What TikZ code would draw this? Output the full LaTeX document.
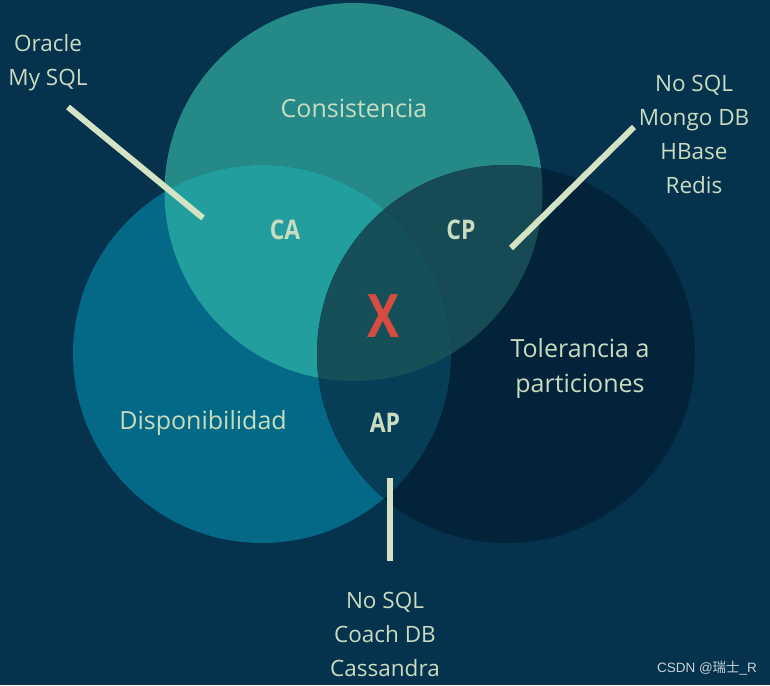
\documentclass[tikz,border=0pt]{standalone}
\usepackage{fontspec}
\setmainfont{Open Sans}
\newfontfamily\cjkfont{Noto Sans CJK SC}
\newfontfamily\wmfont{Liberation Sans}
\definecolor{bg}{HTML}{05324D}
\definecolor{ctop}{HTML}{258988}
\definecolor{cleft}{HTML}{046887}
\definecolor{cright}{HTML}{03233A}
\definecolor{regca}{HTML}{229E9F}
\definecolor{regcp}{HTML}{164A55}
\definecolor{regap}{HTML}{063E58}
\definecolor{regmid}{HTML}{155058}
\definecolor{txt}{HTML}{C9DCC0}
\definecolor{linec}{HTML}{D3E3C4}
\definecolor{xred}{HTML}{D64C40}
\tikzset{
  lbl/.style={text=txt, font=\fontsize{22.5}{34}\selectfont, align=center, inner sep=0pt},
  biglbl/.style={text=txt, font=\fontsize{25}{35}\selectfont, align=center, inner sep=0pt},
  reg/.style={text=txt, font=\bfseries\fontsize{27}{30}\selectfont, inner sep=0pt, xscale=0.85, transform shape},
  pointer/.style={draw=linec, line width=6pt},
}
\begin{document}
\begin{tikzpicture}[x=1pt,y=-1pt]
\fill[bg] (0,0) rectangle (770,685);
\useasboundingbox (0,0) rectangle (770,685);
\coordinate (ct) at (353.5,192);
\coordinate (cl) at (262,354);
\coordinate (cr) at (506,354);
\def\R{189}
\fill[ctop] (ct) circle (\R);
\fill[cleft] (cl) circle (\R);
\fill[cright] (cr) circle (\R);
\begin{scope}
  \clip (ct) circle (\R);
  \fill[regca] (cl) circle (\R);
  \fill[regcp] (cr) circle (\R);
\end{scope}
\begin{scope}
  \clip (cl) circle (\R);
  \fill[regap] (cr) circle (\R);
\end{scope}
\begin{scope}
  \clip (ct) circle (\R);
  \clip (cl) circle (\R);
  \fill[regmid] (cr) circle (\R);
\end{scope}
% labels
\node[biglbl] (cons) at (354,108) {Consistencia};
\node[biglbl] (disp) at (203,423) {Disponibilidad};
\node[biglbl] (tol) at (580,368) {Tolerancia a\\particiones};
\node[reg] (ca) at (285,230) {CA};
\node[reg] (cp) at (461,230) {CP};
\node[reg] (ap) at (385,423) {AP};
\node[text=xred, font=\bfseries\fontsize{60}{60}\selectfont, inner sep=0pt, xscale=0.8, transform shape] (x) at (384,316) {X};
\node[lbl] (ora) at (48,63) {Oracle\\My SQL};
\node[lbl] (nosql1) at (694,134) {No SQL\\Mongo DB\\HBase\\Redis};
\node[lbl] (nosql2) at (385,634) {No SQL\\Coach DB\\Cassandra};
\node[text=white!78!bg, font=\wmfont\fontsize{13.5}{16}\selectfont, inner sep=0pt] (wm) at (707,668) {CSDN @{\cjkfont 瑞士}\_R};
% pointers
\coordinate (p1a) at (68,107);
\coordinate (p1b) at (203,218);
\coordinate (p2a) at (634,127);
\coordinate (p2b) at (511,248);
\coordinate (p3a) at (390,478);
\coordinate (p3b) at (390,561);
\draw[pointer] (p1a) -- (p1b);
\draw[pointer] (p2a) -- (p2b);
\draw[pointer] (p3a) -- (p3b);
\end{tikzpicture}
\end{document}
